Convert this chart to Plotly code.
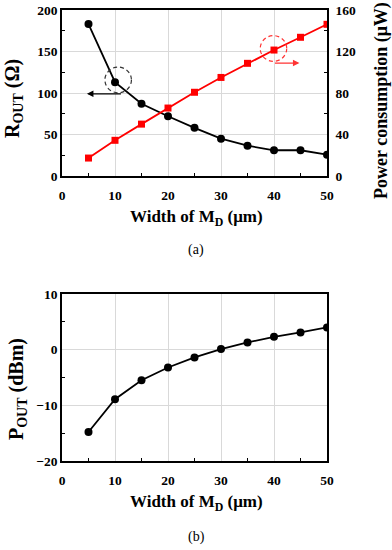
import plotly.graph_objects as go

width_md = [5, 10, 15, 20, 25, 30, 35, 40, 45, 50]
r_out = [183, 113, 87, 72, 58, 45, 36.5, 31, 31, 25.7]
power_uw = [17.3, 34.4, 50, 65.5, 80.7, 95, 108.6, 121.4, 133.7, 146.2]
p_out = [-14.8, -8.9, -5.5, -3.2, -1.4, 0.1, 1.3, 2.3, 3.1, 4.0]

W, H = 392, 550
FONT = "Liberation Serif"

def px_x(a, b):
    return [a / W, b / W]

def px_y(top, bottom):
    return [1 - bottom / H, 1 - top / H]

fig = go.Figure()
fig.add_trace(go.Scatter(x=width_md, y=r_out, mode="lines+markers",
                         line=dict(color="black", width=1.8),
                         marker=dict(symbol="circle", size=8, color="black"),
                         xaxis="x", yaxis="y", showlegend=False))
fig.add_trace(go.Scatter(x=width_md, y=power_uw, mode="lines+markers",
                         line=dict(color="#ff0000", width=1.8),
                         marker=dict(symbol="square", size=7, color="#ff0000"),
                         xaxis="x", yaxis="y2", showlegend=False))
fig.add_trace(go.Scatter(x=width_md, y=p_out, mode="lines+markers",
                         line=dict(color="black", width=1.8),
                         marker=dict(symbol="circle", size=8, color="black"),
                         xaxis="x2", yaxis="y3", showlegend=False))

grid = "#d9d9d9"
tickfont = dict(family=FONT, size=13.5, color="black", weight="bold")

def xaxis_common(anchor):
    return dict(range=[0, 50], dtick=10, tick0=0, showgrid=True, gridcolor=grid,
                gridwidth=1, showline=True, linecolor="black", linewidth=1.5,
                mirror=True, ticks="", zeroline=False, anchor=anchor,
                automargin=False, domain=px_x(62, 327), tickfont=tickfont,
                ticklabelstandoff=6,
                minor=dict(ticks="inside", dtick=10, tick0=5, ticklen=3,
                           tickcolor="black", showgrid=False))

layout = dict(
    width=W, height=H, paper_bgcolor="white", plot_bgcolor="white",
    margin=dict(l=0, r=0, t=0, b=0, autoexpand=False),
    font=dict(family=FONT, color="black"),
    xaxis=xaxis_common("y"),
    xaxis2=xaxis_common("y3"),
    yaxis=dict(range=[0, 200], dtick=50, showgrid=True, gridcolor=grid,
               showline=True, linecolor="black", linewidth=1.5, mirror=False,
               zeroline=False, ticks="", domain=px_y(10, 176), anchor="x",
               tickfont=tickfont, automargin=False,
               minor=dict(ticks="inside", dtick=50, tick0=25, ticklen=3,
                          tickcolor="black", showgrid=False)),
    yaxis2=dict(range=[0, 160], dtick=40, showgrid=False, overlaying="y",
                side="right", anchor="x", showline=True, linecolor="black",
                linewidth=1.5, zeroline=False, ticks="", tickfont=tickfont,
                automargin=False, ticklabelstandoff=4,
                minor=dict(ticks="inside", dtick=40, tick0=20, ticklen=3,
                           tickcolor="black")),
    yaxis3=dict(range=[-20, 10], dtick=10, showgrid=True, gridcolor=grid,
                showline=True, linecolor="black", linewidth=1.5, mirror=True,
                zeroline=False, ticks="", domain=px_y(294, 461), anchor="x2",
                tickfont=tickfont, automargin=False,
                minor=dict(ticks="inside", dtick=10, tick0=5, ticklen=3,
                           tickcolor="black", showgrid=False)),
)
fig.update_layout(**layout)

def paper_text(text, cx, cy, size, angle=0):
    fig.add_annotation(x=cx / W, y=1 - cy / H, xref="paper", yref="paper",
                       text=text, showarrow=False, textangle=angle,
                       xanchor="center", yanchor="middle",
                       font=dict(family=FONT, size=size, color="black"))

# axis titles
paper_text("<b>Width of M<sub>D</sub> (μm)</b>", 196, 218, 17)
paper_text("<b>Width of M<sub>D</sub> (μm)</b>", 196, 503, 17)
paper_text("<b>R<sub>OUT</sub> (Ω)</b>", 14, 99, 20, -90)
paper_text("<b>P<sub>OUT</sub> (dBm)</b>", 17, 389, 20, -90)
paper_text("<b>Power consumption (μW)</b>", 382, 101, 18, -90)

# panel labels
paper_text("(a)", 196, 250, 14)
paper_text("(b)", 196, 537, 14)

# dashed circles
fig.add_shape(type="circle", xref="x", yref="y", x0=10.6 - 2.5, x1=10.6 + 2.5,
              y0=115.7 - 15.5, y1=115.7 + 15.5,
              line=dict(color="#333333", width=1.2, dash="4px,3px"))
fig.add_shape(type="circle", xref="x", yref="y", x0=39.9 - 2.5, x1=39.9 + 2.5,
              y0=153.6 - 15.5, y1=153.6 + 15.5,
              line=dict(color="#ff3333", width=1.2, dash="4px,3px"))

# arrows
fig.add_annotation(x=4.7, y=99, ax=11.4, ay=99, xref="x", yref="y",
                   axref="x", ayref="y", showarrow=True, arrowhead=2,
                   arrowsize=1, arrowwidth=1.3, arrowcolor="black", text="")
fig.add_annotation(x=44.8, y=136, ax=39.9, ay=136, xref="x", yref="y",
                   axref="x", ayref="y", showarrow=True, arrowhead=2,
                   arrowsize=1, arrowwidth=1.3, arrowcolor="#ff3333", text="")

fig.write_html("out.html", config={"displayModeBar": False},
               post_script="document.body.style.margin='0';document.body.style.padding='0';")
